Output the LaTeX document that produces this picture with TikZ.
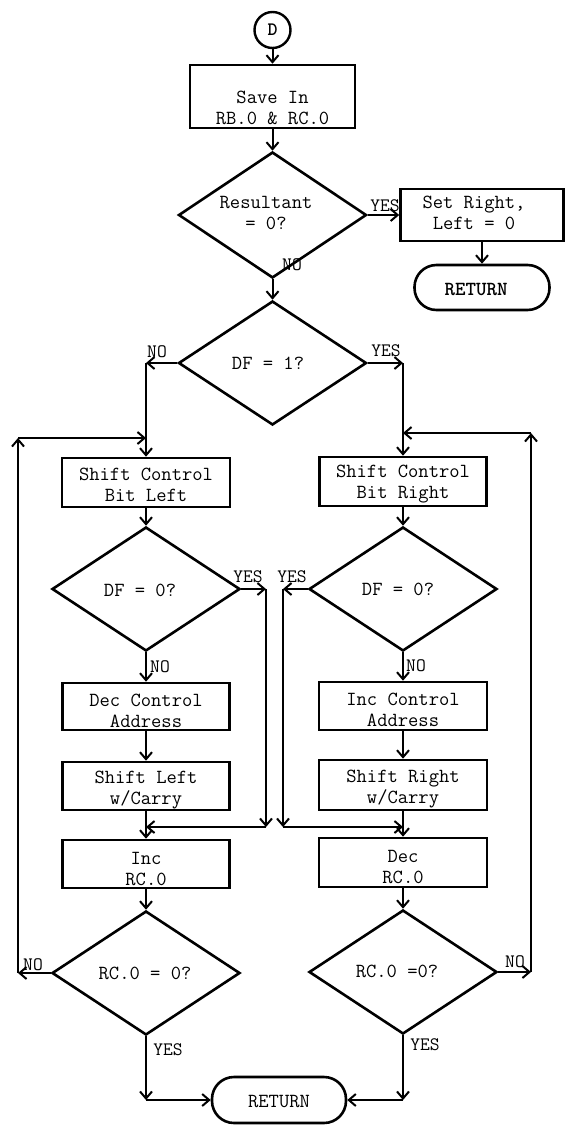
\documentclass[tikz,border=0pt]{standalone}
\usetikzlibrary{arrows.meta,shapes.geometric}
\begin{document}
\begin{tikzpicture}[x=1pt,y=-1pt,
  box/.style={draw,line width=2.6pt,rectangle,inner sep=0pt},
  dia/.style={draw,line width=2.6pt,diamond,inner sep=0pt,minimum width=188pt,minimum height=125pt},
  term/.style={draw,line width=2.6pt,rectangle,rounded corners=22pt,inner sep=0pt},
  circ/.style={draw,line width=2.4pt,circle,inner sep=0pt,minimum size=36pt,font=\fontsize{19}{20}\selectfont\ttfamily\bfseries},
  txt/.style={font=\fontsize{20}{21}\selectfont\ttfamily,align=center,inner sep=0pt},
  btxt/.style={font=\fontsize{20}{21}\selectfont\ttfamily\bfseries,align=center,inner sep=0pt},
  lab/.style={font=\fontsize{19}{20}\selectfont\ttfamily,inner sep=0pt},
  arr/.style={line width=2pt,-{Straight Barb[length=7pt,width=12pt]}}]
\useasboundingbox (0,0) rectangle (566,1125);

% top part
\node[circ] (d) at (272.5,30) {D};
\node[box,minimum width=165pt,minimum height=63pt] (save) at (272.5,96.5) {};
\node[txt] (savet) at (272.5,108) {Save In\\RB.0 \& RC.0};
\node[dia,minimum height=126pt] (res) at (272.5,215) {};
\node[txt] (rest) at (266,213) {Resultant\\= 0?};
\node[box,minimum width=163pt,minimum height=52pt] (setr) at (482,215) {};
\node[txt] (setrt) at (474,213) {Set Right,\\Left = 0};
\node[term,minimum width=135pt,minimum height=45pt] (ret1) at (482,287.5) {};
\node[btxt] (ret1t) at (476,289) {RETURN};
\node[dia,minimum height=124pt] (df1) at (272.5,363) {};
\node[txt] (df1t) at (268,363) {DF = 1?};

\draw[arr] (d.south) -- (save.north);
\draw[arr] (save.south) -- (res.north);
\draw[arr] (res.east) -- (setr.west);
\draw[arr] (setr.south) -- (ret1.north);
\draw[arr] (res.south) -- (df1.north);
\node[lab] (lresno) at (292,265) {NO};
\node[lab] (lresyes) at (385,206) {YES};

% left column
\coordinate (c1) at (146,363);
\node[box,minimum width=168pt,minimum height=49pt] (shl) at (146,482.5) {};
\node[txt] (shlt) at (146,485) {Shift Control\\Bit Left};
\node[dia,minimum height=124pt] (dfl) at (146,589) {};
\node[txt] (dflt) at (140,590) {DF = 0?};
\node[box,minimum width=167pt,minimum height=47pt] (decl) at (146,706.5) {};
\node[txt] (declt) at (146,711) {Dec Control\\Address};
\node[box,minimum width=167pt,minimum height=48pt] (shll) at (146,786) {};
\node[txt] (shllt) at (146,790) {Shift Left\\w/Carry};
\node[box,minimum width=167pt,minimum height=48pt] (incl) at (146,864) {};
\node[txt] (inclt) at (146,869) {Inc\\RC.0};
\node[dia,minimum height=124pt] (rcl) at (146,973) {};
\node[txt] (rclt) at (145,973) {RC.0 = 0?};

% right column
\coordinate (c2) at (403,363);
\node[box,minimum width=167pt,minimum height=49pt] (shr) at (403,481.5) {};
\node[txt] (shrt) at (403,484) {Shift Control\\Bit Right};
\node[dia,minimum height=124pt] (dfr) at (403,589) {};
\node[txt] (dfrt) at (398,589) {DF = 0?};
\node[box,minimum width=168pt,minimum height=48pt] (incr) at (403,706) {};
\node[txt] (incrt) at (403,710) {Inc Control\\Address};
\node[box,minimum width=168pt,minimum height=50pt] (shrr) at (403,785) {};
\node[txt] (shrrt) at (403,789) {Shift Right\\w/Carry};
\node[box,minimum width=168pt,minimum height=49pt] (decr) at (403,862.5) {};
\node[txt] (decrt) at (403,867) {Dec\\RC.0};
\node[dia,minimum height=124pt] (rcr) at (403,972) {};
\node[txt] (rcrt) at (397,971) {RC.0 =0?};

% bottom terminal
\node[term,minimum width=134pt,minimum height=46pt] (ret2) at (279,1100) {};
\node[txt] (ret2t) at (279,1101) {RETURN};

% DF=1 branches
\draw[arr] (df1.west) -- (c1);
\draw[arr] (c1) -- (shl.north);
\draw[arr] (df1.east) -- (c2);
\draw[arr] (c2) -- (shr.north);
\node[lab] (ldf1no) at (157,352) {NO};
\node[lab] (ldf1yes) at (386,351) {YES};

% left chain
\draw[arr] (shl.south) -- (dfl.north);
\draw[arr] (dfl.south) -- (decl.north);
\draw[arr] (decl.south) -- (shll.north);
\draw[arr] (shll.south) -- (incl.north);
\draw[arr] (incl.south) -- (rcl.north);
\coordinate (y1) at (266,589);
\coordinate (y2) at (266,827);
\coordinate (y3) at (146,827);
\draw[arr] (dfl.east) -- (y1);
\draw[arr] (y1) -- (y2);
\draw[arr] (y2) -- (y3);
\node[lab] (ldflyes) at (248,577) {YES};
\node[lab] (ldflno) at (160,667) {NO};

% right chain
\draw[arr] (shr.south) -- (dfr.north);
\draw[arr] (dfr.south) -- (incr.north);
\draw[arr] (incr.south) -- (shrr.north);
\draw[arr] (shrr.south) -- (decr.north);
\draw[arr] (decr.south) -- (rcr.north);
\coordinate (z1) at (283,589);
\coordinate (z2) at (283,827);
\coordinate (z3) at (403,827);
\draw[arr] (dfr.west) -- (z1);
\draw[arr] (z1) -- (z2);
\draw[arr] (z2) -- (z3);
\node[lab] (ldfryes) at (292,577) {YES};
\node[lab] (ldfrno) at (416,666) {NO};

% loops
\coordinate (l1) at (18,973);
\coordinate (l2) at (18,438);
\coordinate (l3) at (146,438);
\draw[arr] (rcl.west) -- (l1);
\draw[arr] (l1) -- (l2);
\draw[arr] (l2) -- (l3);
\node[lab] (lrclno) at (33,965) {NO};
\coordinate (r1) at (531,972);
\coordinate (r2) at (531,433);
\coordinate (r3) at (403,433);
\draw[arr] (rcr.east) -- (r1);
\draw[arr] (r1) -- (r2);
\draw[arr] (r2) -- (r3);
\node[lab] (lrcrno) at (515,962) {NO};

% to return
\coordinate (b1) at (146,1100);
\coordinate (b2) at (403,1100);
\draw[arr] (rcl.south) -- (b1);
\draw[arr] (b1) -- (ret2.west);
\draw[arr] (rcr.south) -- (b2);
\draw[arr] (b2) -- (ret2.east);
\node[lab] (lrclyes) at (168,1050) {YES};
\node[lab] (lrcryes) at (425,1045) {YES};
\end{tikzpicture}
\end{document}
